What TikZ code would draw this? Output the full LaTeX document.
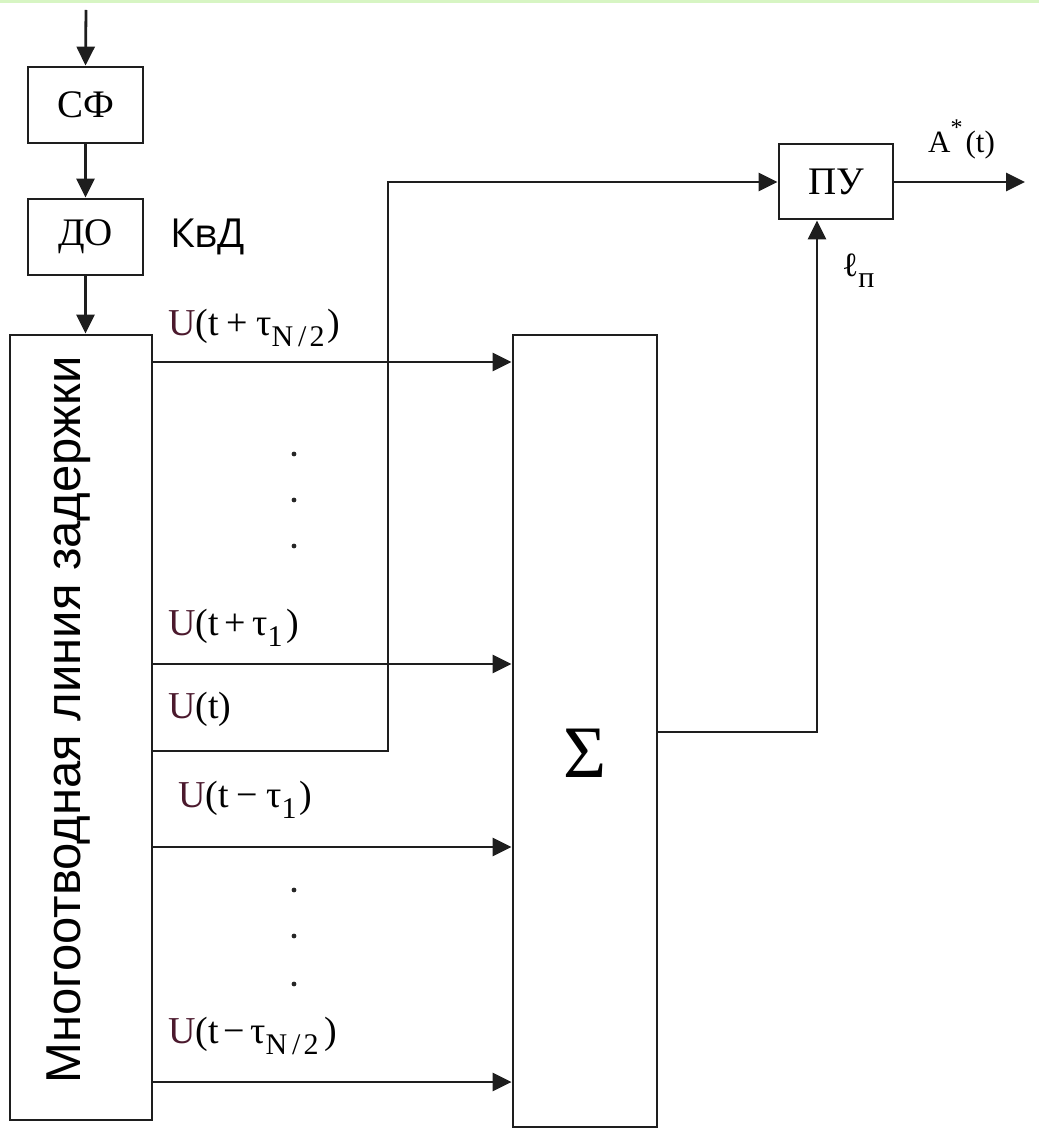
\documentclass[tikz,border=0pt]{standalone}
\usepackage{fontspec}
\setmainfont{Liberation Serif}
\newfontfamily\delayfont{Liberation Sans}
\newfontfamily\kvdfont{Open Sans}
\usetikzlibrary{arrows.meta}
\definecolor{lc}{RGB}{30,30,30}
\definecolor{ucol}{RGB}{75,25,45}
\definecolor{band}{RGB}{215,245,195}
\newcommand\Ulet{\textcolor{ucol}{U}}
\newcommand\sbs[1]{\raisebox{-0.3em}{\fontsize{30}{30}\selectfont #1}}
\begin{document}
\begin{tikzpicture}[x=1pt,y=-1pt,
  box/.style={draw=lc, line width=2.8pt, inner sep=0pt, font=\fontsize{39}{44}\selectfont},
  conn/.style={draw=lc, line width=2.8pt, -{Triangle[length=19pt,width=18pt]}},
  lbl/.style={anchor=base west, inner sep=0pt, font=\fontsize{38}{42}\selectfont},
  dot/.style={fill=black!85}]
\useasboundingbox (0,0) rectangle (1039,1131);
\fill[band] (0,0) rectangle (1039,3);
% blocks
\node[box, minimum width=115pt, minimum height=76pt] (sf) at (85.5,105) {СФ};
\node[box, minimum width=115pt, minimum height=76pt] (do) at (85.5,237) {ДО};
\node[box, minimum width=142pt, minimum height=785pt] (mlz) at (81,727.5) {};
\node[box, minimum width=144pt, minimum height=792pt] (sum) at (585,731) {};
\node[box, minimum width=114pt, minimum height=75pt] (pu) at (836,181.5) {ПУ};
% texts
\node[inner sep=0pt, anchor=base, rotate=90, font=\delayfont\fontsize{49}{54}\selectfont] (mlzt) at (80,720) {Многоотводная линия задержки};
\node[inner sep=0pt, font=\fontsize{74}{80}\selectfont] (sig) at (585,753) {Σ};
\node[anchor=base west, inner sep=0pt, font=\kvdfont\fontsize{40}{44}\selectfont] (kvd) at (170,248) {КвД};
\node[lbl] (l1) at (168,335) {\Ulet(t\kern8pt+\kern8ptτ\sbs{N\kern5pt/\kern3pt2}\kern3pt)};
\node[lbl] (l2) at (168,635) {\Ulet(t\kern6pt+\kern6ptτ\sbs{1}\kern4pt)};
\node[lbl] (l3) at (168,718) {\Ulet(t)};
\node[lbl] (l4) at (178,807) {\Ulet(t\kern8pt−\kern8ptτ\sbs{1}\kern3pt)};
\node[lbl] (l5) at (168,1043) {\Ulet(t\kern5pt−\kern5ptτ\sbs{N\kern5pt/\kern3pt2}\kern6pt)};
\node[lbl, font=\fontsize{31}{36}\selectfont] (astar) at (928,153) {A\raisebox{0.55em}{\fontsize{24}{24}\selectfont *}\kern3pt(t)};
\node[lbl, font=\fontsize{34}{38}\selectfont] (lp) at (842,277) {ℓ\sbs{п}};
% dots
\foreach \yy in {454,500,546,890,936,984}
  \fill[dot] (294,\yy) circle[radius=2.4pt];
% connectors
\coordinate (in) at (86,10);
\draw[conn] (in) -- (sf.north);
\draw[conn] (sf.south) -- (do.north);
\draw[conn] (do.south) -- (mlz.north -| do.south);
\foreach \yy in {362,664,847,1082}
  \draw[conn] (mlz.east |- 0,\yy) -- (sum.west |- 0,\yy);
\coordinate (bend) at (388,182);
\draw[conn] (mlz.east |- 0,751) -| (bend) -- (pu.west |- bend);
\coordinate (upx) at (817,0);
\draw[conn] (sum.east |- 0,732) -| (upx |- pu.south);
\coordinate (out) at (1025,182);
\draw[conn] (pu.east |- out) -- (out);
\end{tikzpicture}
\end{document}
